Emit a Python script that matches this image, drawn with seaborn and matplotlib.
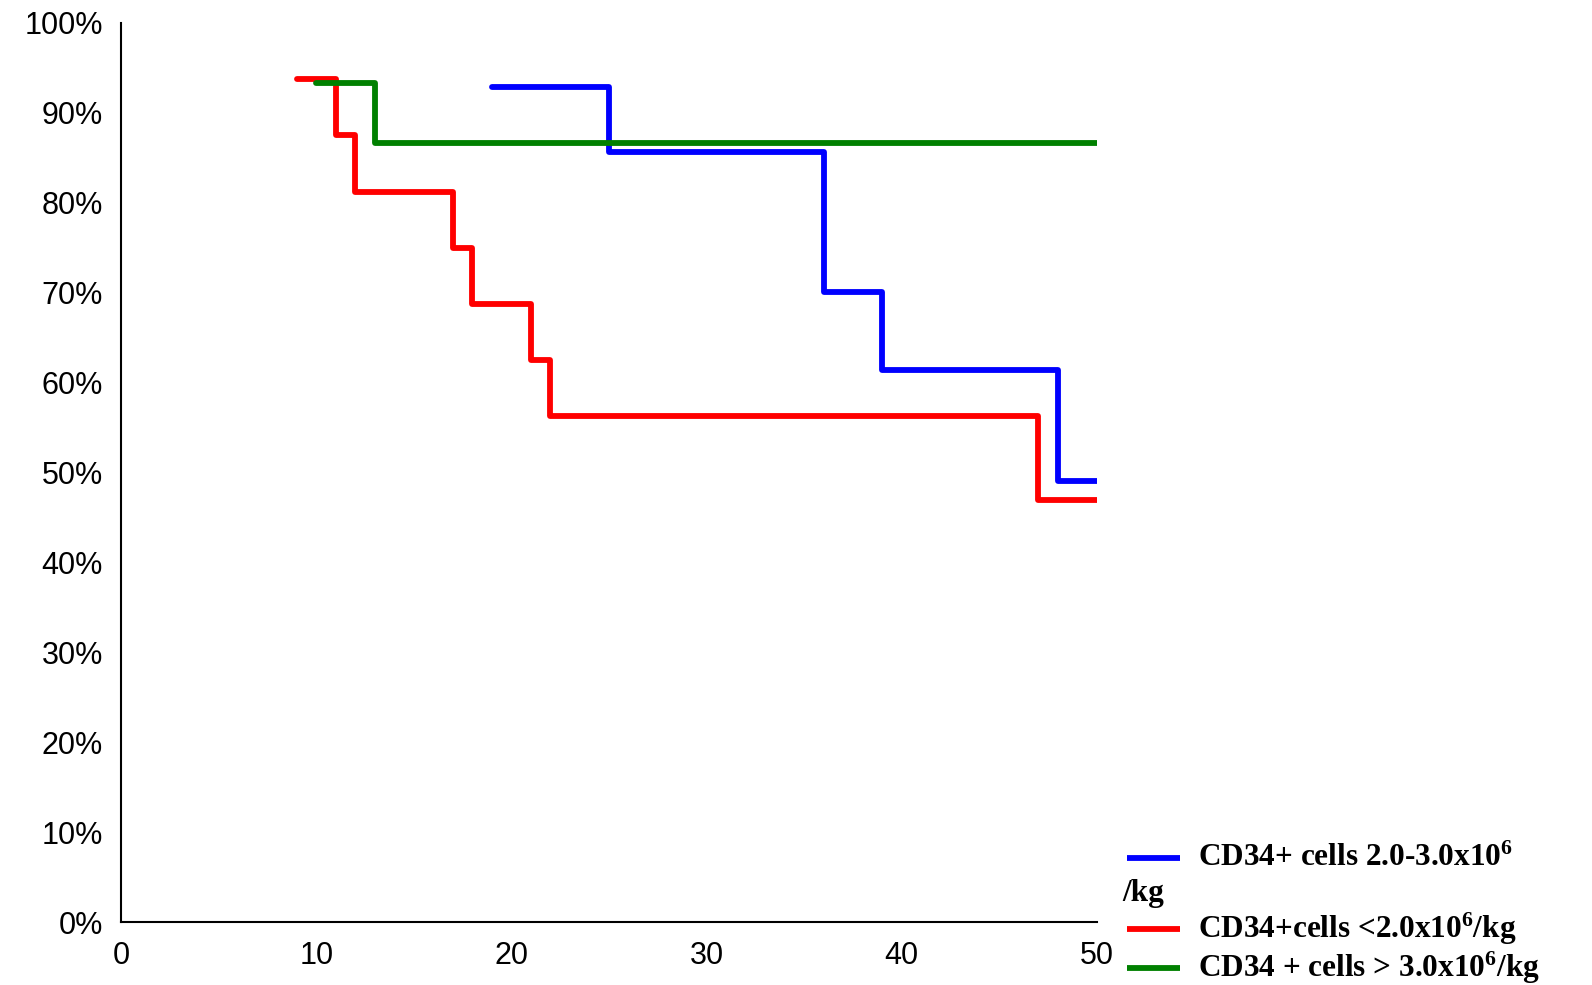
import matplotlib
matplotlib.use("Agg")
import matplotlib.pyplot as plt
from matplotlib.lines import Line2D
import seaborn as sns
import pandas as pd

# ---- data ----
blue_label = "CD34+ cells 2.0-3.0x10$^{6}$"
red_label = "CD34+cells <2.0x10$^{6}$/kg"
green_label = "CD34 + cells > 3.0x10$^{6}$/kg"

blue_x = [19, 25, 36, 39, 48, 50]
blue_y = [92.9, 85.7, 70.1, 61.4, 49.1, 49.1]

red_x = [9, 11, 12, 17, 18, 21, 22, 47, 50]
red_y = [93.75, 87.5, 81.25, 75.0, 68.75, 62.5, 56.25, 46.9, 46.9]

green_x = [10, 13, 50]
green_y = [93.3, 86.7, 86.7]

x_ticks = [0, 10, 20, 30, 40, 50]
y_ticks = [0, 10, 20, 30, 40, 50, 60, 70, 80, 90, 100]
y_tick_labels = [f"{v}%" for v in y_ticks]

groups = ["blue", "red", "green"]
colors = {"blue": "#0000FF", "red": "#FF0000", "green": "#008000"}

df = pd.concat([
    pd.DataFrame({"t": blue_x, "s": blue_y, "g": "blue"}),
    pd.DataFrame({"t": red_x, "s": red_y, "g": "red"}),
    pd.DataFrame({"t": green_x, "s": green_y, "g": "green"}),
], ignore_index=True)

sns.set_theme(style="white")
plt.rcParams["font.family"] = ["Liberation Sans", "DejaVu Sans"]
plt.rcParams["mathtext.fontset"] = "custom"
plt.rcParams["mathtext.rm"] = "Liberation Serif:bold"
plt.rcParams["mathtext.bf"] = "Liberation Serif:bold"
plt.rcParams["mathtext.it"] = "Liberation Serif:bold"

fig = plt.figure(figsize=(15.92, 9.85), dpi=100)
ax = fig.add_axes([121 / 1592, 1 - 922 / 985, (1097 - 121) / 1592, (922 - 23) / 985])

sns.lineplot(data=df, x="t", y="s", hue="g", palette=colors, hue_order=groups,
             estimator=None, sort=False, drawstyle="steps-post", linewidth=4.2,
             legend=False, ax=ax, solid_joinstyle="round")

ax.set_xlim(0, 50)
ax.set_ylim(0, 100)
ax.set_xticks(x_ticks)
ax.set_xticklabels([str(v) for v in x_ticks])
ax.set_yticks(y_ticks)
ax.set_yticklabels(y_tick_labels)
ax.tick_params(axis="both", length=0, labelsize=22, colors="black")
ax.tick_params(axis="y", pad=13)
ax.tick_params(axis="x", pad=14)
ax.set_xlabel("")
ax.set_ylabel("")
for side in ["top", "right"]:
    ax.spines[side].set_visible(False)
for side in ["left", "bottom"]:
    ax.spines[side].set_color("black")
    ax.spines[side].set_linewidth(1.5)

# ---- manual legend (figure coordinates, pixels from top-left) ----
W, H = 1592, 985
def fx(px):
    return px / W
def fy(py):
    return 1 - py / H

legend_font = dict(family=["Liberation Serif", "DejaVu Serif"], fontweight="bold",
                   fontsize=22.5, color="black", va="center", ha="left")
entries = [("blue", blue_label, 858), ("red", red_label, 929), ("green", green_label, 968)]
for g, lab, py in entries:
    fig.add_artist(Line2D([fx(1127), fx(1180)], [fy(py), fy(py)], color=colors[g],
                          linewidth=4.2, solid_capstyle="butt"))
    fig.text(fx(1198), fy(py), lab, **legend_font)
fig.text(fx(1122), fy(893), "/kg", **legend_font)

fig.savefig("out.png", dpi=100, facecolor="white")
